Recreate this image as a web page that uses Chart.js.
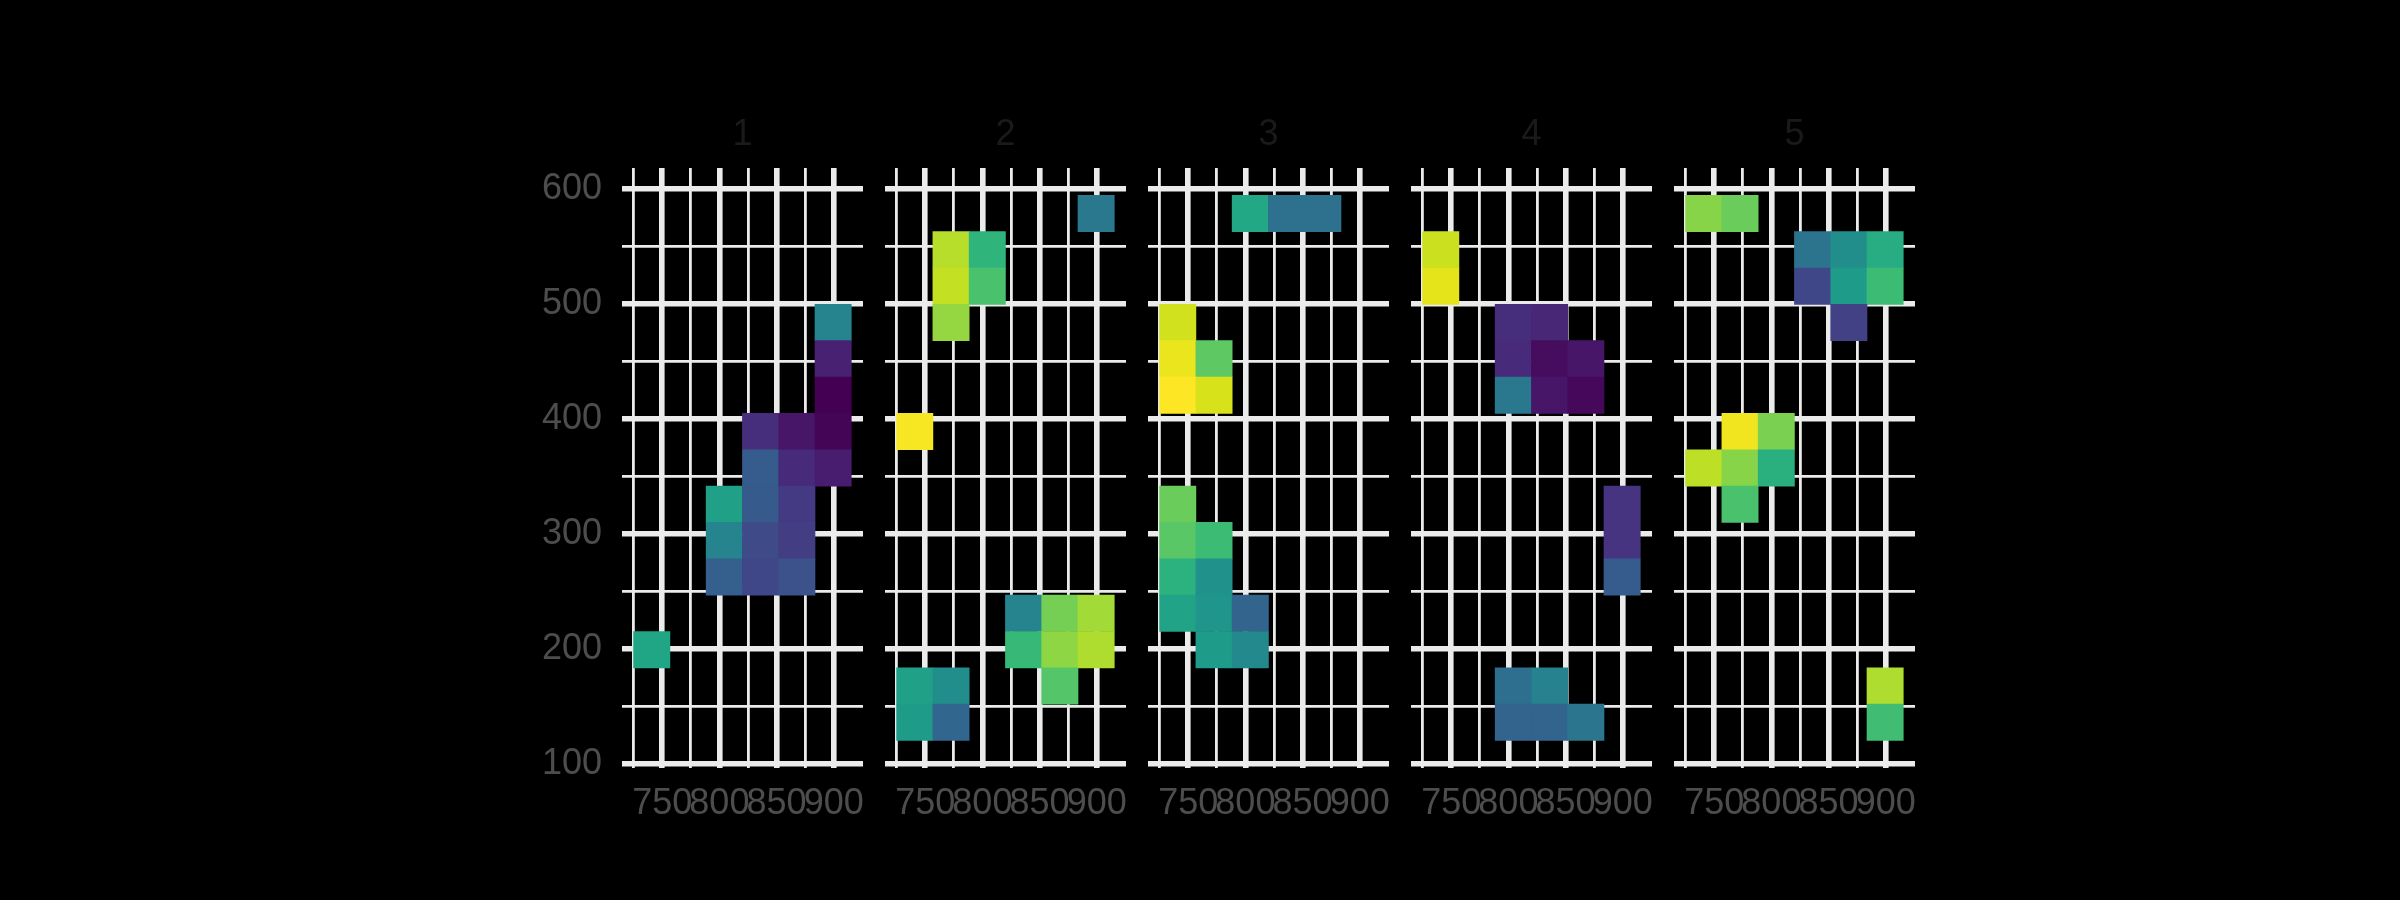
<!DOCTYPE html>
<html>
<head>
<meta charset="utf-8">
<script src="https://cdn.jsdelivr.net/npm/chart.js@4.4.1/dist/chart.umd.min.js"></script>
<style>
html,body{margin:0;padding:0;background:#000;width:2400px;height:900px;overflow:hidden;}
canvas{position:absolute;}
</style>
</head>
<body>
<script>
// ---------- data ----------
const facets = ['1', '2', '3', '4', '5'];
const xTicks = [750, 800, 850, 900];
const xMinorTicks = [725, 775, 825, 875];
const yTicks = [100, 200, 300, 400, 500, 600];
const yMinorTicks = [150, 250, 350, 450, 550];
const binWidth = 31.7;
const binHeight = 31.6;

const tileFacet = [
  '1','1','1','1','1','1','1','1','1','1','1','1','1','1','1','1','1','1','1',
  '2','2','2','2','2','2','2','2','2','2','2','2','2','2','2','2','2','2',
  '3','3','3','3','3','3','3','3','3','3','3','3','3','3','3','3','3','3',
  '4','4','4','4','4','4','4','4','4','4','4','4','4','4','4','4','4','4',
  '5','5','5','5','5','5','5','5','5','5','5','5','5','5','5','5','5'
];
const tileX = [
  740.9, 804.3, 804.3, 804.3, 836.0, 836.0, 836.0, 836.0, 836.0, 867.7, 867.7, 867.7, 867.7, 867.7, 899.4, 899.4, 899.4, 899.4, 899.4,
  899.4, 772.6, 804.3, 772.6, 804.3, 772.6, 740.9, 836.0, 867.7, 899.4, 836.0, 867.7, 899.4, 867.7, 740.9, 772.6, 740.9, 772.6,
  804.3, 836.0, 867.7, 740.9, 740.9, 772.6, 740.9, 772.6, 740.9, 740.9, 772.6, 740.9, 772.6, 740.9, 772.6, 804.3, 772.6, 804.3,
  740.9, 740.9, 804.3, 836.0, 804.3, 836.0, 867.7, 804.3, 836.0, 867.7, 899.4, 899.4, 899.4, 804.3, 836.0, 804.3, 836.0, 867.7,
  740.9, 772.6, 836.0, 867.7, 899.4, 836.0, 867.7, 899.4, 867.7, 772.6, 804.3, 740.9, 772.6, 804.3, 772.6, 899.4, 899.4
];
const tileY = [
  199.3, 325.7, 294.1, 262.5, 388.9, 357.3, 325.7, 294.1, 262.5, 388.9, 357.3, 325.7, 294.1, 262.5, 483.7, 452.1, 420.5, 388.9, 357.3,
  578.5, 546.9, 546.9, 515.3, 515.3, 483.7, 388.9, 230.9, 230.9, 230.9, 199.3, 199.3, 199.3, 167.7, 167.7, 167.7, 136.1, 136.1,
  578.5, 578.5, 578.5, 483.7, 452.1, 452.1, 420.5, 420.5, 325.7, 294.1, 294.1, 262.5, 262.5, 230.9, 230.9, 230.9, 199.3, 199.3,
  546.9, 515.3, 483.7, 483.7, 452.1, 452.1, 452.1, 420.5, 420.5, 420.5, 325.7, 294.1, 262.5, 167.7, 167.7, 136.1, 136.1, 136.1,
  578.5, 578.5, 546.9, 546.9, 546.9, 515.3, 515.3, 515.3, 483.7, 388.9, 388.9, 357.3, 357.3, 357.3, 325.7, 167.7, 136.1
];
const tileValue = [
  59, 57, 45, 30, 13, 29, 28, 22, 21, 6, 12, 17, 18, 25, 45, 9, 0, 1, 8,
  40, 89, 65, 91, 71, 84, 99, 45, 79, 86, 67, 83, 88, 73, 57, 49, 55, 33,
  60, 37, 37, 93, 97, 75, 100, 94, 77, 74, 68, 64, 50, 58, 52, 32, 55, 47,
  92, 96, 13, 11, 12, 3, 6, 40, 6, 2, 15, 15, 29, 36, 44, 32, 32, 39,
  82, 77, 38, 49, 62, 21, 55, 68, 19, 98, 80, 90, 82, 63, 71, 88, 69
];
const valueMin = 0, valueMax = 100;

// ---------- style ----------
const viridisStops = ["#440154","#471365","#482475","#463480","#414487","#3b528b","#355f8d","#2f6c8e","#2a788e","#25848e","#21918c","#1e9c89","#22a884","#2fb47c","#44bf70","#5ec962","#7ad151","#9bd93c","#bddf26","#dfe318","#fde725"];
function hexToRgb(h){return [parseInt(h.slice(1,3),16),parseInt(h.slice(3,5),16),parseInt(h.slice(5,7),16)];}
function viridis(t){
  t = Math.max(0, Math.min(1, t));
  const p = t * (viridisStops.length - 1);
  const i = Math.min(Math.floor(p), viridisStops.length - 2);
  const f = p - i;
  const a = hexToRgb(viridisStops[i]), b = hexToRgb(viridisStops[i+1]);
  const c = a.map((v,k)=>Math.round(v + (b[k]-v)*f));
  return 'rgb(' + c.join(',') + ')';
}

const FONT = "'Liberation Sans', Arial, Helvetica, sans-serif";
const FS = 36;
const GRID = '#ebebeb';
const MAJOR_W = 5.6, MINOR_W = 2.8;
const SIDE = 90;
const AREA_W = 241;
const AREA_LEFTS = [622, 885, 1148, 1411, 1674];
const CANVAS_TOP = 100, CANVAS_H = 800, XAXIS_H = 132;
const X_MIN = 714.9, X_MAX = 925.5, Y_MIN = 96.4, Y_MAX = 618;

facets.forEach((f, i) => {
  const cv = document.createElement('canvas');
  const W = SIDE + AREA_W + SIDE;
  cv.width = W; cv.height = CANVAS_H;
  cv.style.left = (AREA_LEFTS[i] - SIDE) + 'px';
  cv.style.top = CANVAS_TOP + 'px';
  cv.style.width = W + 'px'; cv.style.height = CANVAS_H + 'px';
  document.body.appendChild(cv);

  const pts = [];
  tileFacet.forEach((tf, j) => {
    if (tf === f) pts.push({x: tileX[j], y: [tileY[j] - binHeight/2, tileY[j] + binHeight/2], v: tileValue[j]});
  });

  new Chart(cv, {
    type: 'bar',
    data: {
      datasets: [{
        data: pts,
        xAxisID: 'x', yAxisID: 'y',
        backgroundColor: ctx => viridis((ctx.raw.v - valueMin) / (valueMax - valueMin)),
        borderWidth: 0,
        barPercentage: 1,
        categoryPercentage: 1
      }]
    },
    options: {
      responsive: false, animation: false, devicePixelRatio: 1,
      layout: {padding: 0},
      plugins: {
        legend: {display: false},
        tooltip: {enabled: false},
        title: {display: true, text: f, color: '#1a1a1a', font: {family: FONT, size: FS, weight: 'normal'}, padding: {top: 13.4, bottom: 11.4}}
      },
      scales: {
        x: {
          type: 'linear', position: 'bottom', min: X_MIN, max: X_MAX, offset: false,
          grid: {color: GRID, lineWidth: MAJOR_W, drawTicks: false, offset: false},
          border: {display: false},
          ticks: {color: '#4d4d4d', font: {family: FONT, size: FS}, padding: 14, maxRotation: 0, minRotation: 0, autoSkip: false},
          afterBuildTicks: s => { s.ticks = xTicks.map(v => ({value: v})); },
          afterFit: s => { s.height = XAXIS_H; }
        },
        x2: {
          type: 'linear', position: 'bottom', min: X_MIN, max: X_MAX, offset: false,
          grid: {color: GRID, lineWidth: MINOR_W, drawTicks: false, offset: false},
          border: {display: false},
          ticks: {display: false},
          afterBuildTicks: s => { s.ticks = xMinorTicks.map(v => ({value: v})); },
          afterFit: s => { s.height = 0; }
        },
        y: {
          type: 'linear', position: 'left', min: Y_MIN, max: Y_MAX,
          grid: {color: GRID, lineWidth: c => (c.tick && yTicks.includes(c.tick.value)) ? MAJOR_W : MINOR_W, drawTicks: false},
          border: {display: false},
          ticks: {display: i === 0, color: '#4d4d4d', font: {family: FONT, size: FS}, padding: 20, autoSkip: false,
                  callback: v => yTicks.includes(v) ? String(v) : ''},
          afterBuildTicks: s => { s.ticks = yTicks.concat(yMinorTicks).sort((a,b)=>a-b).map(v => ({value: v})); },
          afterFit: s => { s.width = SIDE; }
        },
        yPad: {
          type: 'linear', position: 'right', min: Y_MIN, max: Y_MAX,
          grid: {display: false, drawTicks: false},
          border: {display: false},
          ticks: {display: false},
          afterFit: s => { s.width = SIDE; }
        }
      }
    }
  });
});
</script>
</body>
</html>
